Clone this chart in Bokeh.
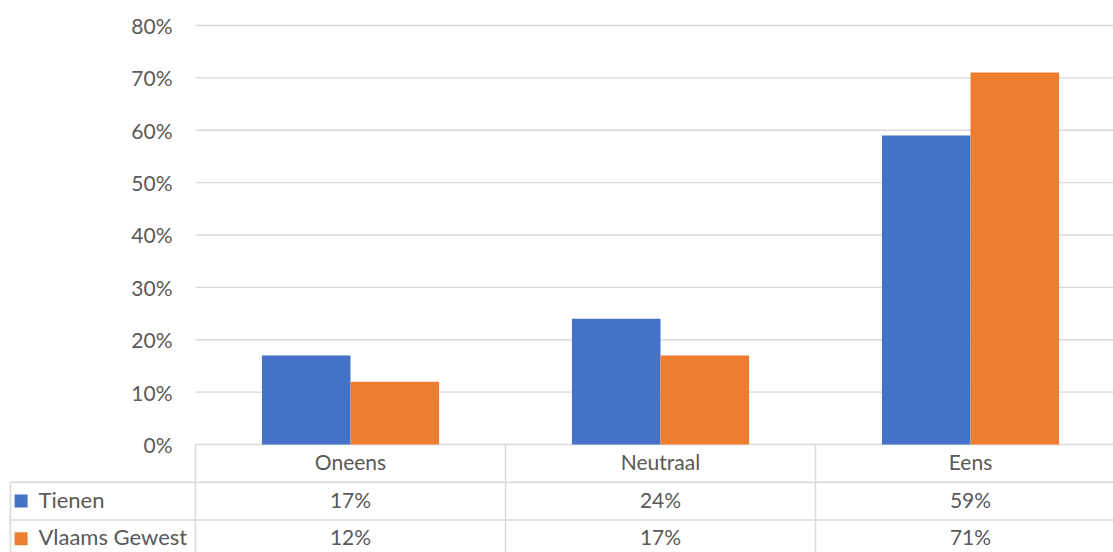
import numpy as np
from bokeh.plotting import figure
from bokeh.models import Range1d
from bokeh.core.properties import value
from bokeh.embed import file_html
from bokeh.resources import INLINE

categories = ["Oneens", "Neutraal", "Eens"]
series_names = ["Tienen", "Vlaams Gewest"]
tienen = [17, 24, 59]
vlaams = [12, 17, 71]
y_ticks = [0, 10, 20, 30, 40, 50, 60, 70, 80]
colors = ["#4472C4", "#ED7D31"]

FONT = value("Lato")
TXT = "#595959"
GRID = "#D9D9D9"
FS = "21px"

p = figure(width=1113, height=552, output_backend="svg", toolbar_location=None,
           x_range=Range1d(-1.129, 2.4613), y_range=Range1d(-20.62, 84.77),
           min_border=0, outline_line_color=None)
p.axis.visible = False
p.grid.visible = False

xs = np.arange(len(categories))
bw = 1 / 3.5
right = 2.6

# gridlines
p.segment(x0=[-0.5] * len(y_ticks), y0=y_ticks, x1=[right] * len(y_ticks), y1=y_ticks,
          line_color=GRID, line_width=1.3)
# y tick labels
p.text(x=[-0.574] * len(y_ticks), y=y_ticks, text=[f"{v}%" for v in y_ticks],
       text_align="right", text_baseline="middle", text_font=FONT,
       text_font_size=FS, text_color=TXT)

# bars
p.vbar(x=xs - bw / 2, top=tienen, width=bw, bottom=0, fill_color=colors[0], line_color=None)
p.vbar(x=xs + bw / 2, top=vlaams, width=bw, bottom=0, fill_color=colors[1], line_color=None)

# data table
row_h = 7.2
r1 = -row_h
r2 = -2 * row_h
bottom = -3 * row_h
left_edge = -1.097
p.segment(x0=[left_edge, left_edge], y0=[r1, r2], x1=[right, right], y1=[r1, r2],
          line_color=GRID, line_width=1.5)
p.segment(x0=[-0.5, 0.5, 1.5], y0=[0, 0, 0], x1=[-0.5, 0.5, 1.5], y1=[bottom] * 3,
          line_color=GRID, line_width=1.5)
p.segment(x0=[left_edge], y0=[r1], x1=[left_edge], y1=[bottom], line_color=GRID, line_width=1.5)

p.text(x=xs, y=[-row_h / 2] * 3, text=categories, text_align="center", text_baseline="middle",
       y_offset=-2, text_font=FONT, text_font_size=FS, text_color=TXT)
for i, vals in enumerate([tienen, vlaams]):
    yc = -row_h * (i + 1.5)
    p.text(x=xs, y=[yc] * 3, text=[f"{v}%" for v in vals], text_align="center",
           text_baseline="middle", y_offset=-2, text_font=FONT, text_font_size=FS, text_color=TXT)
    p.scatter(x=[-1.0626], y=[yc], marker="square", size=13, fill_color=colors[i], line_color=None)
    p.text(x=[-1.0065], y=[yc], text=[series_names[i]], text_align="left", text_baseline="middle",
           y_offset=-2, text_font=FONT, text_font_size="22px", text_color=TXT)

open("out.html", "w").write(file_html(p, INLINE))
